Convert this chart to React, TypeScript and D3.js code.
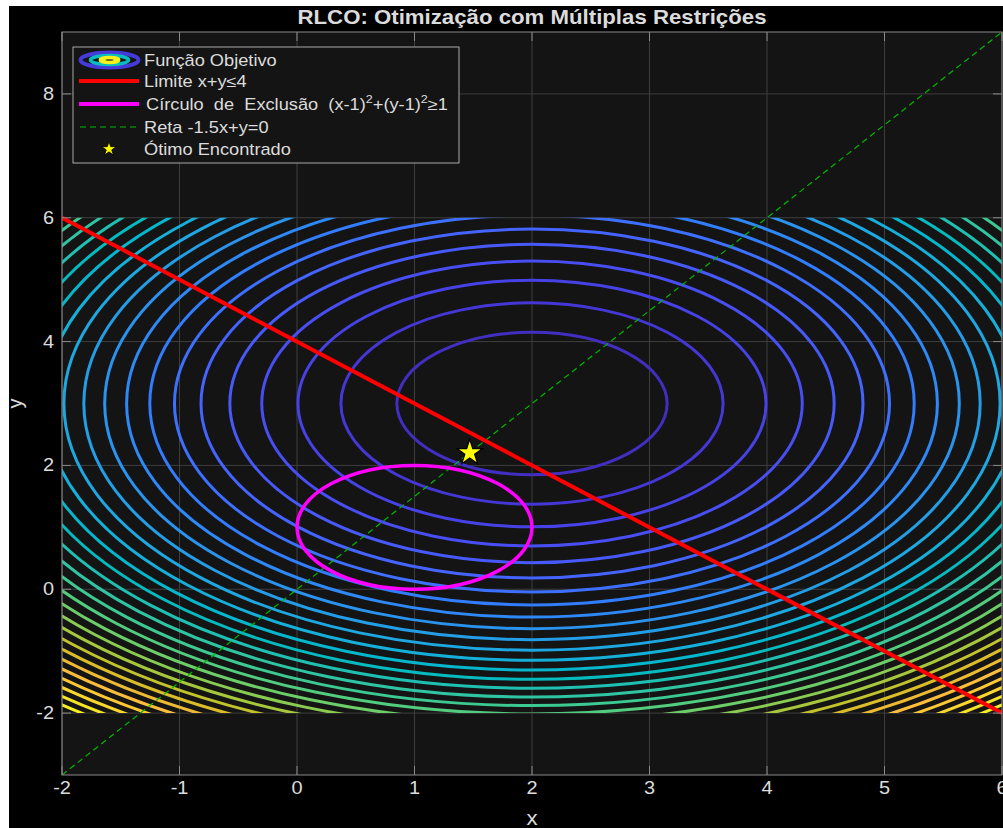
import React from 'react';
import * as d3 from 'd3';

// ---- data ----
const xTicks = [-2, -1, 0, 1, 2, 3, 4, 5, 6];
const yTicks = [-2, 0, 2, 4, 6, 8];
const xDomain = [-2, 6];
const yDomain = [-3, 9];
const contourGridX = [-2, 6];
const contourGridY = [-2, 6];
const objectiveCenter = [2, 3];
const objectiveRange = [0, 41];
// contour levels of f(x,y) = (x-2)^2 + (y-3)^2
const contourLevels = [
  1.3226, 2.6452, 3.9677, 5.2903, 6.6129, 7.9355, 9.2581, 10.5806, 11.9032, 13.2258,
  14.5484, 15.871, 17.1935, 18.5161, 19.8387, 21.1613, 22.4839, 23.8065, 25.129, 26.4516,
  27.7742, 29.0968, 30.4194, 31.7419, 33.0645, 34.3871, 35.7097, 37.0323, 38.3548, 39.6774,
];
const limitLineX = [-2, 6];
const limitLineY = [6, -2]; // x + y = 4
const exclusionCenter = [1, 1];
const exclusionRadius = 1;
const retaX = [-2, 6];
const retaY = [-3, 9]; // y = 1.5x
const optimum = [1.47, 2.205];

const parula64 = [
  [0.2422, 0.1504, 0.6603], [0.2504, 0.165, 0.7076], [0.2578, 0.1818, 0.7511], [0.2647, 0.1978, 0.7952],
  [0.2706, 0.2147, 0.8364], [0.2751, 0.2342, 0.871], [0.2783, 0.2559, 0.8991], [0.2803, 0.2782, 0.9221],
  [0.2813, 0.3006, 0.9414], [0.281, 0.3228, 0.9579], [0.2795, 0.3447, 0.9717], [0.276, 0.3667, 0.9829],
  [0.2699, 0.3892, 0.9906], [0.2602, 0.4123, 0.9952], [0.244, 0.4358, 0.9988], [0.2206, 0.4603, 0.9973],
  [0.1963, 0.4847, 0.9892], [0.1834, 0.5074, 0.9798], [0.1786, 0.5289, 0.9682], [0.1764, 0.5499, 0.952],
  [0.1687, 0.5703, 0.9359], [0.154, 0.5902, 0.9218], [0.146, 0.6091, 0.9079], [0.138, 0.6276, 0.8973],
  [0.1248, 0.6459, 0.8883], [0.1113, 0.6635, 0.8763], [0.0952, 0.6798, 0.8598], [0.0689, 0.6948, 0.8394],
  [0.0297, 0.7082, 0.8163], [0.0036, 0.7203, 0.7917], [0.0067, 0.7312, 0.766], [0.0433, 0.7411, 0.7394],
  [0.0964, 0.75, 0.712], [0.1408, 0.7584, 0.6842], [0.1717, 0.767, 0.6554], [0.1938, 0.7758, 0.6251],
  [0.2161, 0.7843, 0.5923], [0.247, 0.7918, 0.5567], [0.2906, 0.7973, 0.5188], [0.3406, 0.8008, 0.4789],
  [0.3909, 0.8029, 0.4354], [0.4456, 0.8024, 0.3909], [0.5044, 0.7993, 0.348], [0.5616, 0.7942, 0.3045],
  [0.6174, 0.7876, 0.2612], [0.672, 0.7793, 0.2227], [0.7242, 0.7698, 0.191], [0.7738, 0.7598, 0.1646],
  [0.8203, 0.7498, 0.1535], [0.8634, 0.7406, 0.1596], [0.9035, 0.733, 0.1774], [0.9393, 0.7288, 0.21],
  [0.9728, 0.7298, 0.2394], [0.9956, 0.7434, 0.2371], [0.997, 0.7659, 0.2199], [0.9952, 0.7893, 0.2028],
  [0.9892, 0.8136, 0.1885], [0.9786, 0.8386, 0.1766], [0.9676, 0.8639, 0.1643], [0.961, 0.889, 0.1537],
  [0.9597, 0.9135, 0.1423], [0.9628, 0.9373, 0.1265], [0.9691, 0.9606, 0.1064], [0.9769, 0.9839, 0.0805],
];

const FONT = '"Liberation Sans", Arial, Helvetica, sans-serif';
const TXT = '#dcdcdc';
const SX = 1.14;

function T({ x, y, size, anchor = 'start', weight = 'normal', fill = TXT, rotate = false, children }: any) {
  const tr = rotate
    ? `translate(${x},${y}) rotate(-90)`
    : `translate(${x},${y}) scale(${SX},1)`;
  return (
    <text transform={tr} fontSize={size} textAnchor={anchor} fontWeight={weight} fill={fill}
      fontFamily={FONT} style={{ whiteSpace: 'pre' }}>
      {children}
    </text>
  );
}

export default function App() {
  const W = 1003, H = 828;
  const xs = d3.scaleLinear().domain(xDomain).range([62, 1002]);
  const ys = d3.scaleLinear().domain(yDomain).range([775, 32]);
  const colorScale = d3.scaleLinear<string>()
    .domain(parula64.map((_, i) => objectiveRange[0] + (i / 63) * (objectiveRange[1] - objectiveRange[0])))
    .range(parula64.map((c) => d3.rgb(c[0] * 255, c[1] * 255, c[2] * 255).toString()))
    .interpolate(d3.interpolateRgb);

  const line = d3.line<[number, number]>().x((d) => xs(d[0])).y((d) => ys(d[1]));
  const limitPts: [number, number][] = limitLineX.map((x, i) => [x, limitLineY[i]]);
  const retaPts: [number, number][] = retaX.map((x, i) => [x, retaY[i]]);

  const x0 = xs(xDomain[0]), x1 = xs(xDomain[1]);
  const y0 = ys(yDomain[1]), y1 = ys(yDomain[0]);
  const gridColor = '#3e3e3e';
  const axisColor = '#8a8a8a';
  const tickLen = 9;

  const starBig = d3.symbol(d3.symbolStar, (13.5 * 13.5) / 0.8908130915292852)();
  const starSmall = d3.symbol(d3.symbolStar, (7.5 * 7.5) / 0.8908130915292852)();

  // legend
  const lgX = 73, lgY = 47, lgW = 386, lgH = 116;
  const rows = [60, 81, 104, 127, 149];

  return (
    <svg width={W} height={H} style={{ position: 'absolute', left: 0, top: 0 }}>
      <rect x={0} y={0} width={W} height={H} fill="#ffffff" />
      <rect x={9} y={6} width={W - 9} height={H - 6} fill="#000000" />
      <defs>
        <clipPath id="gridclip">
          <rect x={xs(contourGridX[0])} y={ys(contourGridY[1])}
            width={xs(contourGridX[1]) - xs(contourGridX[0])}
            height={ys(contourGridY[0]) - ys(contourGridY[1])} />
        </clipPath>
        <clipPath id="axclip">
          <rect x={x0} y={y0} width={x1 - x0} height={y1 - y0} />
        </clipPath>
      </defs>
      {/* axes background */}
      <rect x={x0} y={y0} width={x1 - x0} height={y1 - y0} fill="#141414" />
      {/* grid */}
      {xTicks.map((t) => (
        <line key={'gx' + t} x1={xs(t)} x2={xs(t)} y1={y0} y2={y1} stroke={gridColor} strokeWidth={1} />
      ))}
      {yTicks.map((t) => (
        <line key={'gy' + t} x1={x0} x2={x1} y1={ys(t)} y2={ys(t)} stroke={gridColor} strokeWidth={1} />
      ))}
      {/* contours */}
      <g clipPath="url(#gridclip)">
        {contourLevels.map((lv) => {
          const r = Math.sqrt(lv);
          return (
            <ellipse key={'c' + lv} cx={xs(objectiveCenter[0])} cy={ys(objectiveCenter[1])}
              rx={xs(objectiveCenter[0] + r) - xs(objectiveCenter[0])}
              ry={ys(objectiveCenter[1]) - ys(objectiveCenter[1] + r)}
              fill="none" stroke={colorScale(lv)} strokeWidth={3} />
          );
        })}
      </g>
      <g clipPath="url(#axclip)">
        {/* green dashed */}
        <path d={line(retaPts) || ''} fill="none" stroke="#00b800" strokeWidth={1.2} strokeDasharray="6,4" />
        {/* exclusion circle */}
        <ellipse cx={xs(exclusionCenter[0])} cy={ys(exclusionCenter[1])}
          rx={xs(exclusionCenter[0] + exclusionRadius) - xs(exclusionCenter[0])}
          ry={ys(exclusionCenter[1]) - ys(exclusionCenter[1] + exclusionRadius)}
          fill="none" stroke="#ff00ff" strokeWidth={3.5} />
        {/* limit line */}
        <path d={line(limitPts) || ''} fill="none" stroke="#ff0000" strokeWidth={4} />
        {/* optimum */}
        <path d={starBig || ''} transform={`translate(${xs(optimum[0])},${ys(optimum[1])})`}
          fill="#ffff00" stroke="#000000" strokeWidth={1.2} />
      </g>
      {/* axes box and ticks */}
      <rect x={x0} y={y0} width={x1 - x0} height={y1 - y0} fill="none" stroke={axisColor} strokeWidth={1} />
      {xTicks.map((t) => (
        <g key={'tx' + t}>
          <line x1={xs(t)} x2={xs(t)} y1={y1} y2={y1 - tickLen} stroke={axisColor} />
          <line x1={xs(t)} x2={xs(t)} y1={y0} y2={y0 + tickLen} stroke={axisColor} />
          <T x={xs(t)} y={794} size={17.5} anchor="middle">{String(t)}</T>
        </g>
      ))}
      {yTicks.map((t) => (
        <g key={'ty' + t}>
          <line x1={x0} x2={x0 + tickLen} y1={ys(t)} y2={ys(t)} stroke={axisColor} />
          <line x1={x1} x2={x1 - tickLen} y1={ys(t)} y2={ys(t)} stroke={axisColor} />
          <T x={54} y={ys(t) + 6} size={17.5} anchor="end">{String(t)}</T>
        </g>
      ))}
      {/* title & labels */}
      <T x={(x0 + x1) / 2} y={24} size={19.5} anchor="middle" weight="bold">RLCO: Otimização com Múltiplas Restrições</T>
      <T x={(x0 + x1) / 2} y={825} size={19.5} anchor="middle">x</T>
      <T x={22} y={(y0 + y1) / 2} size={20} anchor="middle" rotate>y</T>
      {/* legend */}
      <rect x={lgX} y={lgY} width={lgW} height={lgH} fill="#141414" stroke="#a8a8a8" strokeWidth={1} />
      <g>
        <ellipse cx={109.5} cy={rows[0]} rx={29} ry={7.5} fill="none" stroke={colorScale(3)} strokeWidth={4} />
        <ellipse cx={109.5} cy={rows[0]} rx={19} ry={4.5} fill="none" stroke={colorScale(20)} strokeWidth={3.5} />
        <ellipse cx={109.5} cy={rows[0]} rx={10} ry={3.2} fill={colorScale(40)} stroke={colorScale(40)} strokeWidth={2} />
        <ellipse cx={109.5} cy={rows[0]} rx={4} ry={1} fill="#6b6b20" />
      </g>
      <line x1={79} x2={139} y1={rows[1]} y2={rows[1]} stroke="#ff0000" strokeWidth={4} />
      <line x1={79} x2={139} y1={rows[2]} y2={rows[2]} stroke="#ff00ff" strokeWidth={4} />
      <line x1={80} x2={137} y1={rows[3]} y2={rows[3]} stroke="#00b800" strokeWidth={1.2} strokeDasharray="6,4" />
      <path d={starSmall || ''} transform={`translate(109,${rows[4]})`} fill="#ffff00" stroke="#000" strokeWidth={0.8} />
      <T x={144} y={rows[0] + 5.5} size={16}>Função Objetivo</T>
      <T x={144} y={rows[1] + 5.5} size={16}>Limite x+y≤4</T>
      <T x={146} y={rows[2] + 5.5} size={16}>
        {'Círculo  de  Exclusão  (x-1)'}
        <tspan fontSize={11} dy={-7}>2</tspan>
        <tspan dy={7}>+(y-1)</tspan>
        <tspan fontSize={11} dy={-7}>2</tspan>
        <tspan dy={7}>≥1</tspan>
      </T>
      <T x={144} y={rows[3] + 5.5} size={16}>Reta -1.5x+y=0</T>
      <T x={144} y={rows[4] + 5.5} size={16}>Ótimo Encontrado</T>
    </svg>
  );
}
